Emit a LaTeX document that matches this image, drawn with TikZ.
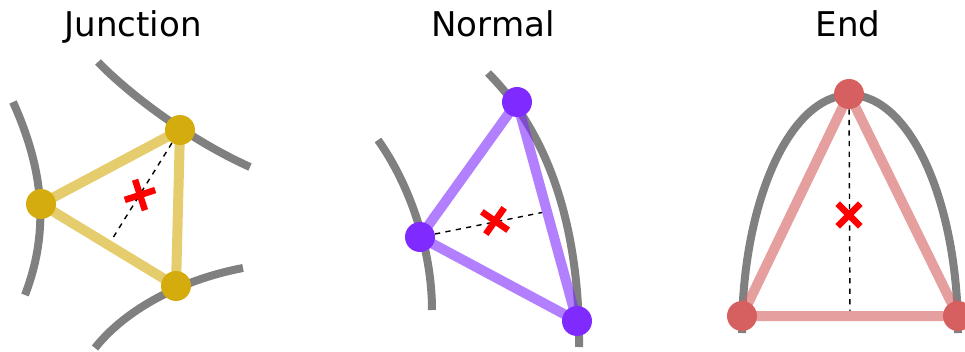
\documentclass[tikz,border=0pt]{standalone}
\usepackage{fontspec}
\setmainfont{DejaVu Sans}
\usetikzlibrary{calc}
\definecolor{junccol}{HTML}{D4AC0D}
\definecolor{normcol}{HTML}{7F2AFF}
\definecolor{endcol}{HTML}{D65F5F}
\pgfdeclarelayer{back}
\pgfsetlayers{back,main}

\begin{document}
\begin{tikzpicture}[x=0.02cm,y=-0.02cm,
    vert/.style={circle,inner sep=0pt,minimum size=0.6cm},
    rib/.style={line width=0.2cm,opacity=0.6,line join=round},
    wire/.style={line width=0.16cm,gray},
    median/.style={dashed,line width=0.8pt,shorten >=0.1cm},
    crossmark/.style={line width=0.13cm,red},
    title/.style={anchor=base,font=\fontsize{19.4}{23}\selectfont}]
  \useasboundingbox (0,0) rectangle (965,352);

  % titles
  \node[title] (jtitle) at (133,36) {Junction};
  \node[title] (ntitle) at (493,36) {Normal};
  \node[title] (etitle) at (848,36) {End};

  % vertices
  \node[vert,fill=junccol] (jA) at (41,204)  {};
  \node[vert,fill=junccol] (jB) at (180,130) {};
  \node[vert,fill=junccol] (jC) at (176,286) {};
  \node[vert,fill=normcol] (nA) at (420,237) {};
  \node[vert,fill=normcol] (nB) at (517,102) {};
  \node[vert,fill=normcol] (nC) at (577,321) {};
  \node[vert,fill=endcol]  (eA) at (742,316) {};
  \node[vert,fill=endcol]  (eB) at (849,94)  {};
  \node[vert,fill=endcol]  (eC) at (958,316) {};

  \begin{pgfonlayer}{back}
    % skeleton lines
    \draw[wire] (13,102) .. controls (46,175) and (48,235) .. (25,295);
    \draw[wire] (98,62) .. controls (130,95) and (190,140) .. (250,167);
    \draw[wire] (95,348) .. controls (125,310) and (180,280) .. (243,268);
    \draw[wire] (378,140) .. controls (410,185) and (432,250) .. (432,310);
    \draw[wire] (488,73) .. controls (545,130) and (580,220) .. (579,347);
    \draw[wire] (742,333) .. controls (742,202) and (790,95) .. (850,95)
                .. controls (910,95) and (958,202) .. (958,333);
    % medians
    \draw[median] (jB) -- ($(jA)!0.5!(jC)$);
    \draw[median] (nA) -- ($(nB)!0.5!(nC)$);
    \draw[median] (eB) -- ($(eA)!0.5!(eC)$);
    % triangles
    \draw[rib,junccol] (jA.center) -- (jB.center) -- (jC.center) -- cycle;
    \draw[rib,normcol] (nA.center) -- (nB.center) -- (nC.center) -- cycle;
    \draw[rib,endcol]  (eA.center) -- (eB.center) -- (eC.center) -- cycle;
  \end{pgfonlayer}

  % centres
  \coordinate (jx) at (140,195);
  \coordinate (nx) at (495,221);
  \coordinate (ex) at (849,215);
  \draw[crossmark,shift={(jx)},rotate=18] (-16,0) -- (16,0) (0,-16) -- (0,16);
  \draw[crossmark,shift={(nx)},rotate=-35] (-16,0) -- (16,0) (0,-16) -- (0,16);
  \draw[crossmark,shift={(ex)},rotate=45] (-16,0) -- (16,0) (0,-16) -- (0,16);
\end{tikzpicture}
\end{document}
